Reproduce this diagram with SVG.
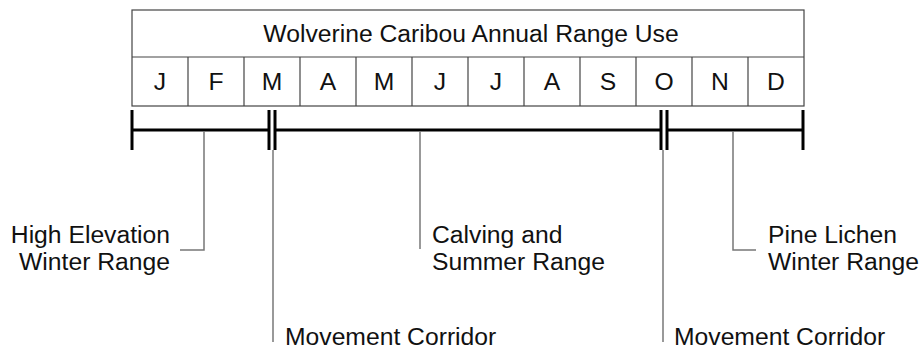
<svg xmlns="http://www.w3.org/2000/svg" width="921" height="352" viewBox="0 0 921 352">
  <style>
    .frame { fill: #fff; stroke: #444; stroke-width: 1.2; }
    .grid { stroke: #444; stroke-width: 1.2; }
    .bar { stroke: #000; stroke-width: 3; fill: none; }
    .lead { stroke: #777; stroke-width: 1.5; fill: none; }
    text { font-family: "Liberation Sans", Arial, sans-serif; font-size: 24.7px; fill: #111; }
    .mid { text-anchor: middle; }
    .end { text-anchor: end; }
  </style>
  <rect width="921" height="352" fill="#fff"/>

  <g id="calendar">
    <rect class="frame" x="132" y="10" width="672" height="96"/>
    <line class="grid" x1="132" y1="57" x2="804" y2="57"/>
    <g class="grid">
      <line x1="188" y1="57" x2="188" y2="106"/>
      <line x1="244" y1="57" x2="244" y2="106"/>
      <line x1="300" y1="57" x2="300" y2="106"/>
      <line x1="356" y1="57" x2="356" y2="106"/>
      <line x1="412" y1="57" x2="412" y2="106"/>
      <line x1="468" y1="57" x2="468" y2="106"/>
      <line x1="524" y1="57" x2="524" y2="106"/>
      <line x1="580" y1="57" x2="580" y2="106"/>
      <line x1="636" y1="57" x2="636" y2="106"/>
      <line x1="692" y1="57" x2="692" y2="106"/>
      <line x1="748" y1="57" x2="748" y2="106"/>
    </g>
    <text class="mid" x="471" y="42">Wolverine Caribou Annual Range Use</text>
    <g>
      <text class="mid" x="160" y="90">J</text>
      <text class="mid" x="216" y="90">F</text>
      <text class="mid" x="272" y="90">M</text>
      <text class="mid" x="328" y="90">A</text>
      <text class="mid" x="384" y="90">M</text>
      <text class="mid" x="440" y="90">J</text>
      <text class="mid" x="496" y="90">J</text>
      <text class="mid" x="552" y="90">A</text>
      <text class="mid" x="608" y="90">S</text>
      <text class="mid" x="664" y="90">O</text>
      <text class="mid" x="720" y="90">N</text>
      <text class="mid" x="776" y="90">D</text>
    </g>
  </g>

  <g id="timeline">
    <line class="bar" x1="132" y1="110" x2="132" y2="150"/>
    <line class="bar" x1="132" y1="130" x2="269" y2="130"/>
    <line class="bar" x1="269" y1="110" x2="269" y2="150"/>
    <line class="bar" x1="275" y1="110" x2="275" y2="150"/>
    <line class="bar" x1="275" y1="130" x2="661" y2="130"/>
    <line class="bar" x1="661" y1="110" x2="661" y2="150"/>
    <line class="bar" x1="667" y1="110" x2="667" y2="150"/>
    <line class="bar" x1="667" y1="130" x2="803" y2="130"/>
    <line class="bar" x1="803" y1="110" x2="803" y2="150"/>
  </g>

  <g id="connectors">
    <polyline class="lead" points="204,131 204,250 180,250"/>
    <line class="lead" x1="273" y1="150" x2="273" y2="342"/>
    <line class="lead" x1="420" y1="131" x2="420" y2="249"/>
    <line class="lead" x1="663" y1="150" x2="663" y2="342"/>
    <polyline class="lead" points="733,131 733,250 756,250"/>
  </g>

  <g id="high-elevation-winter">
    <text class="end" x="170" y="243">High Elevation</text>
    <text class="end" x="170" y="270">Winter Range</text>
  </g>
  <g id="calving-summer">
    <text x="432" y="243">Calving and</text>
    <text x="432" y="270">Summer Range</text>
  </g>
  <g id="pine-lichen-winter">
    <text x="768" y="243">Pine Lichen</text>
    <text x="768" y="270">Winter Range</text>
  </g>
  <g id="movement-spring">
    <text x="285" y="345">Movement Corridor</text>
  </g>
  <g id="movement-fall">
    <text x="674" y="345">Movement Corridor</text>
  </g>
</svg>
